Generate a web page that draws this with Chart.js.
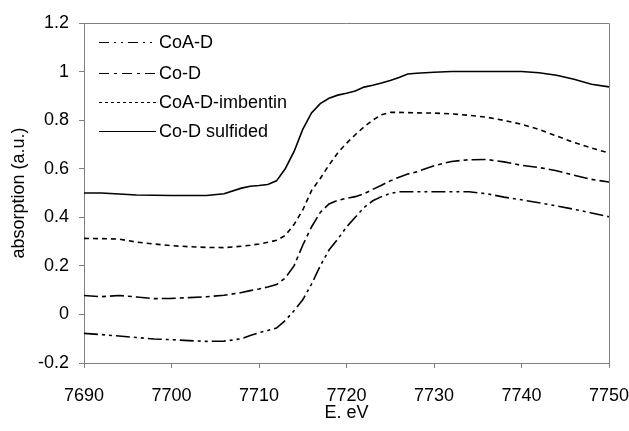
<!DOCTYPE html>
<html>
<head>
<meta charset="utf-8">
<script src="https://cdn.jsdelivr.net/npm/chart.js@4.4.0/dist/chart.umd.min.js"></script>
<style>
  html, body { margin: 0; padding: 0; background: #fff; }
  #wrap { width: 629px; height: 431px; }
</style>
</head>
<body>
<div id="wrap"><canvas id="xanes" width="629" height="431"></canvas></div>
<script>
// Data
const energy = [7690, 7692, 7694, 7696, 7698, 7700, 7702, 7704, 7706, 7708, 7709, 7710, 7711, 7712, 7713,
  7714, 7715, 7716, 7717, 7718, 7719, 7720, 7721, 7722, 7723, 7724, 7725, 7726, 7727, 7728,
  7730, 7732, 7734, 7736, 7738, 7740, 7742, 7744, 7746, 7748, 7750];

const coaD = [-0.078, -0.083, -0.089, -0.095, -0.101, -0.104, -0.108, -0.111, -0.110, -0.100, -0.087, -0.075, -0.066, -0.056, -0.025,
  0.015, 0.060, 0.125, 0.200, 0.265, 0.310, 0.360, 0.400, 0.440, 0.468, 0.485, 0.498, 0.505, 0.505, 0.505,
  0.505, 0.505, 0.505, 0.497, 0.483, 0.472, 0.460, 0.447, 0.433, 0.418, 0.402];

const coD = [0.078, 0.073, 0.078, 0.072, 0.065, 0.066, 0.069, 0.073, 0.079, 0.090, 0.098, 0.105, 0.113, 0.123, 0.150,
  0.200, 0.285, 0.360, 0.420, 0.455, 0.470, 0.478, 0.485, 0.497, 0.515, 0.532, 0.550, 0.565, 0.578, 0.587,
  0.612, 0.630, 0.637, 0.638, 0.628, 0.614, 0.605, 0.592, 0.573, 0.556, 0.545];

const coaDImbentin = [0.313, 0.312, 0.310, 0.298, 0.290, 0.283, 0.279, 0.276, 0.275, 0.281, 0.285, 0.290, 0.297, 0.305, 0.325,
  0.370, 0.430, 0.510, 0.560, 0.615, 0.665, 0.705, 0.740, 0.772, 0.800, 0.822, 0.832, 0.832, 0.831, 0.830,
  0.829, 0.826, 0.820, 0.812, 0.799, 0.783, 0.762, 0.735, 0.708, 0.685, 0.665];

const coDSulfided = [0.500, 0.500, 0.496, 0.492, 0.491, 0.490, 0.490, 0.490, 0.497, 0.520, 0.528, 0.531, 0.535, 0.550, 0.600,
  0.670, 0.762, 0.830, 0.868, 0.890, 0.903, 0.911, 0.920, 0.936, 0.944, 0.953, 0.963, 0.976, 0.990, 0.993,
  0.997, 1.000, 1.000, 1.000, 1.000, 1.000, 0.995, 0.985, 0.968, 0.948, 0.937];

const seriesNames = ['CoA-D', 'Co-D', 'CoA-D-imbentin', 'Co-D sulfided'];
const xTicks = [7690, 7700, 7710, 7720, 7730, 7740, 7750];
const yTicks = [-0.2, 0, 0.2, 0.4, 0.6, 0.8, 1, 1.2];
const yTickLabels = ['-0.2', '0', '0.2', '0.4', '0.6', '0.8', '1', '1.2'];

const FONT = '"Liberation Sans", Arial, sans-serif';
const AXIS_GREY = '#808080';

function points(values) {
  return energy.map((e, i) => ({ x: e, y: values[i] }));
}

const dashes = [
  [14, 4, 3, 4, 3, 4],
  [14, 4, 4, 4],
  [5, 4],
  []
];
const legendDashes = [
  [10, 5, 2, 5, 2, 5],
  [10, 5, 3, 5],
  [3, 3],
  []
];

// box around the plot area + legend drawn inside it
const frameAndLegend = {
  id: 'frameAndLegend',
  afterDraw(chart) {
    const ctx = chart.ctx;
    const a = chart.chartArea;
    ctx.save();
    ctx.strokeStyle = AXIS_GREY;
    ctx.lineWidth = 1;
    ctx.beginPath();
    ctx.moveTo(a.left, a.top + 0.5);
    ctx.lineTo(a.right + 0.5, a.top + 0.5);
    ctx.lineTo(a.right + 0.5, a.bottom);
    ctx.stroke();

    const rows = [42, 73, 102, 131];
    ctx.font = '18px ' + FONT;
    ctx.textBaseline = 'middle';
    ctx.fillStyle = '#000';
    seriesNames.forEach((name, i) => {
      ctx.strokeStyle = '#000';
      ctx.lineWidth = 1.2;
      ctx.setLineDash(legendDashes[i]);
      ctx.beginPath();
      ctx.moveTo(99, rows[i] + 0.5);
      ctx.lineTo(156, rows[i] + 0.5);
      ctx.stroke();
      ctx.setLineDash([]);
      ctx.fillText(name, 159, rows[i] + 1);
    });
    ctx.restore();
  }
};

const ctx = document.getElementById('xanes').getContext('2d');
new Chart(ctx, {
  type: 'line',
  data: {
    datasets: [coaD, coD, coaDImbentin, coDSulfided].map((vals, i) => ({
      label: seriesNames[i],
      data: points(vals),
      borderColor: '#000',
      borderWidth: 1.6,
      borderDash: dashes[i],
      pointRadius: 0,
      tension: 0,
      fill: false
    }))
  },
  options: {
    responsive: false,
    animation: false,
    layout: { padding: { top: 23, right: 0, left: 0, bottom: 0 } },
    plugins: {
      legend: { display: false },
      tooltip: { enabled: false }
    },
    scales: {
      x: {
        type: 'linear',
        min: 7690,
        max: 7750,
        afterBuildTicks: axis => { axis.ticks = xTicks.map(v => ({ value: v })); },
        afterFit: axis => {
          axis.height = 68;
          axis.paddingLeft = 0;
          axis.paddingRight = 20;
        },
        ticks: {
          color: '#000',
          font: { family: FONT, size: 18 },
          padding: 17,
          maxRotation: 0,
          callback: v => String(v)
        },
        grid: { drawOnChartArea: false, drawTicks: true, tickLength: 5, color: AXIS_GREY },
        border: { display: true, color: AXIS_GREY },
        title: {
          display: true,
          text: 'E. eV',
          color: '#000',
          font: { family: FONT, size: 18 },
          padding: { top: 0, bottom: 7 }
        }
      },
      y: {
        min: -0.2,
        max: 1.2,
        afterBuildTicks: axis => { axis.ticks = yTicks.map(v => ({ value: v })); },
        afterFit: axis => { axis.width = 84; },
        ticks: {
          color: '#000',
          font: { family: FONT, size: 18 },
          padding: 10,
          callback: v => yTickLabels[yTicks.findIndex(t => Math.abs(t - v) < 1e-6)]
        },
        grid: { drawOnChartArea: false, drawTicks: true, tickLength: 5, color: AXIS_GREY },
        border: { display: true, color: AXIS_GREY },
        title: {
          display: true,
          text: 'absorption (a.u.)',
          color: '#000',
          font: { family: FONT, size: 18 },
          padding: { top: 8, bottom: 8 }
        }
      }
    }
  },
  plugins: [frameAndLegend]
});
</script>
</body>
</html>
